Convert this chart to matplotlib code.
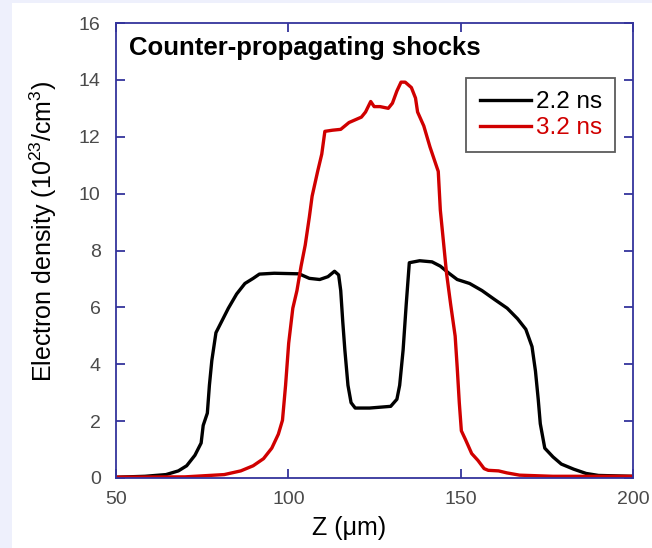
import numpy as np
import matplotlib
matplotlib.use("Agg")
import matplotlib.pyplot as plt
from matplotlib.patches import Rectangle

plt.rcParams['font.family'] = ['Liberation Sans', 'DejaVu Sans']
plt.rcParams['mathtext.fontset'] = 'custom'
plt.rcParams['mathtext.rm'] = 'Liberation Sans'

# electron density profiles, Z in um, density in 1e23 cm^-3
z_22 = [50.6, 58.4, 64.5, 68.1, 70.5, 72.9, 74.7, 75.3, 76.5, 77.1, 77.8, 79.0,
        80.8, 82.6, 85.0, 87.4, 89.8, 91.6, 95.9, 103.1, 106.1, 109.1, 111.5,
        113.4, 114.6, 115.2, 115.8, 116.4, 117.3, 118.2, 119.4, 123.6, 129.7,
        131.5, 132.3, 133.3, 134.2, 135.1, 138.1, 141.7, 144.1, 146.6, 149.0,
        152.6, 156.2, 159.8, 163.5, 166.5, 168.9, 170.7, 171.7, 172.5, 173.1,
        174.4, 176.8, 179.2, 182.8, 186.4, 190.0, 200.0]
ne_22 = [0.03, 0.06, 0.12, 0.25, 0.43, 0.80, 1.23, 1.85, 2.28, 3.26, 4.13, 5.11,
         5.54, 5.97, 6.47, 6.84, 7.02, 7.17, 7.20, 7.18, 7.02, 6.98, 7.08,
         7.27, 7.14, 6.59, 5.48, 4.50, 3.26, 2.65, 2.46, 2.46, 2.52,
         2.77, 3.26, 4.50, 6.10, 7.57, 7.64, 7.60, 7.45, 7.20, 6.98,
         6.84, 6.59, 6.28, 5.97, 5.60, 5.23, 4.62, 3.76, 2.77, 1.91,
         1.05, 0.74, 0.49, 0.31, 0.16, 0.09, 0.06]

z_32 = [50.6, 70.0, 81.4, 86.2, 89.8, 92.8, 95.2, 97.1, 98.3, 99.2, 100.1, 101.3,
        102.5, 103.7, 104.9, 106.1, 106.9, 108.5, 109.7, 110.6, 112.8, 115.2,
        117.6, 121.2, 122.4, 123.9, 124.9, 126.6, 129.0, 130.2, 131.5, 132.7,
        133.9, 135.7, 136.9, 137.5, 139.3, 141.1, 143.5, 144.1, 145.1, 145.9,
        147.1, 148.4, 149.0, 149.6, 150.2, 151.4, 153.2, 155.0, 156.8, 158.0,
        161.0, 163.4, 167.1, 176.7, 200.0]
ne_32 = [0.03, 0.04, 0.12, 0.25, 0.43, 0.68, 1.05, 1.54, 2.03, 3.26, 4.74, 5.97,
         6.59, 7.45, 8.19, 9.18, 9.91, 10.78, 11.39, 12.19, 12.23, 12.26,
         12.50, 12.69, 12.87, 13.24, 13.06, 13.06, 13.00, 13.18, 13.61, 13.92,
         13.92, 13.73, 13.36, 12.87, 12.38, 11.64, 10.78, 9.42, 8.19, 7.20,
         6.10, 4.99, 3.88, 2.65, 1.66, 1.35, 0.86, 0.62, 0.33, 0.27,
         0.25, 0.18, 0.10, 0.06, 0.06]

labels = ['2.2 ns', '3.2 ns']
x_ticks = [50, 100, 150, 200]
y_ticks = [0, 2, 4, 6, 8, 10, 12, 14, 16]

W, H = 652, 548
fig = plt.figure(figsize=(W / 100, H / 100), dpi=100, facecolor='white')
# lavender margin on the left and top
fig.patches.append(Rectangle((0, 0), 12 / W, 1, transform=fig.transFigure,
                             facecolor='#eef0fc', edgecolor='none', zorder=-10))
fig.patches.append(Rectangle((0, 1 - 3 / H), 1, 3 / H, transform=fig.transFigure,
                             facecolor='#eef0fc', edgecolor='none', zorder=-10))

ax = fig.add_axes([116 / W, 1 - 478 / H, (633 - 116) / W, (478 - 23) / H])

ax.plot(z_22, ne_22, color='black', lw=2.4, label=labels[0])
ax.plot(z_32, ne_32, color='#d00000', lw=2.4, label=labels[1])

ax.set_xlim(50, 200)
ax.set_ylim(0, 16)
ax.set_xticks(x_ticks)
ax.set_yticks(y_ticks)

spine_col = '#34349c'
for s in ax.spines.values():
    s.set_color(spine_col)
    s.set_linewidth(1.3)
ax.tick_params(direction='in', top=True, right=True, length=6.5, width=1.3,
               color=spine_col, labelsize=14, labelcolor='#4a4a4a')
ax.tick_params(axis='y', pad=11)
ax.tick_params(axis='x', pad=9)

fig.text(129 / W, 1 - 55 / H, 'Counter-propagating shocks', fontsize=18.5,
         fontweight='bold', ha='left', va='baseline')

leg = ax.legend(loc='upper right', bbox_to_anchor=(615 / W, 1 - 78 / H),
                bbox_transform=fig.transFigure, fontsize=17.5, frameon=True,
                fancybox=False, handlelength=2.1, handletextpad=0.2,
                labelspacing=0.15, borderpad=0.55, borderaxespad=0,
                labelcolor='linecolor')
leg.get_frame().set_edgecolor('#333333')
leg.get_frame().set_linewidth(1.3)

fig.text(349 / W, 1 - 528 / H, 'Z (\u03bcm)', fontsize=18, ha='center', va='center')
fig.text(43 / W, 1 - 231 / H, r'Electron density (10$^{23}$/cm$^{3}$)', fontsize=18,
         rotation=90, ha='center', va='center')

fig.savefig('out.png', dpi=100, facecolor='white')
